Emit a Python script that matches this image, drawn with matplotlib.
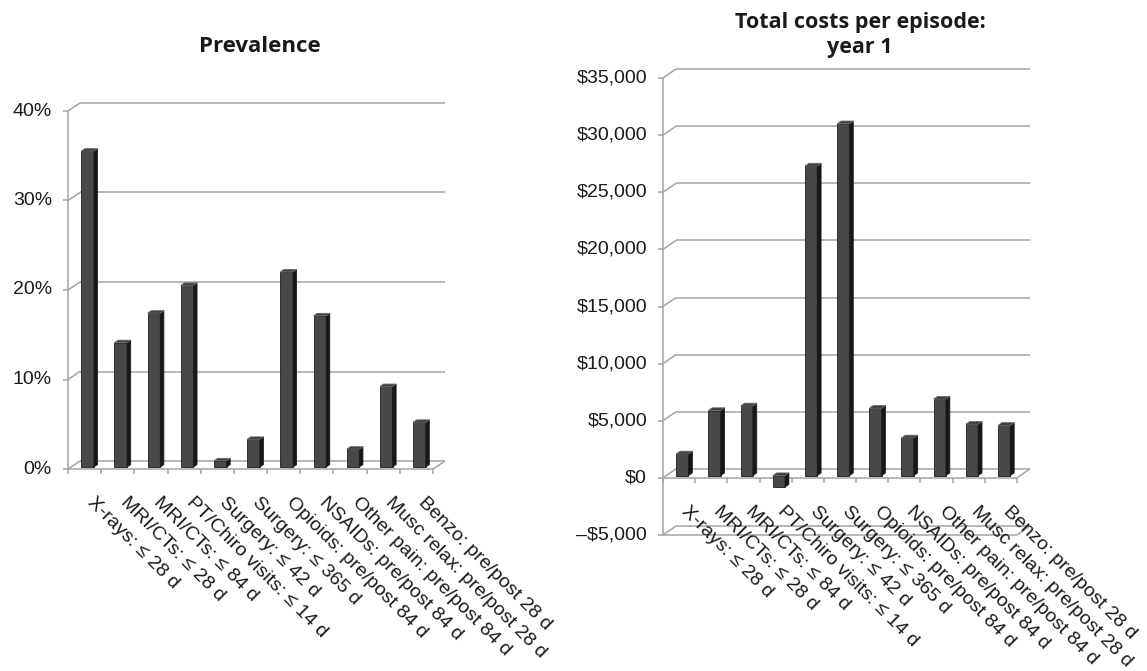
import matplotlib
matplotlib.use("Agg")
import matplotlib.pyplot as plt
from matplotlib.patches import Polygon

# ---- data -------------------------------------------------------------
categories = [
    "X-rays: \u2264 28 d",
    "MRI/CTs: \u2264 28 d",
    "MRI/CTs: \u2264 84 d",
    "PT/Chiro visits: \u2264 14 d",
    "Surgery: \u2264 42 d",
    "Surgery: \u2264 365 d",
    "Opioids: pre/post 84 d",
    "NSAIDs: pre/post 84 d",
    "Other pain: pre/post 84 d",
    "Musc relax: pre/post 28 d",
    "Benzo: pre/post 28 d",
]
prevalence_pct = [35.3, 13.9, 17.2, 20.3, 0.7, 3.1, 21.8, 16.9, 2.0, 9.0, 5.0]
cost_year1 = [1900, 5700, 6100, -1000, 27100, 30800, 5900, 3300, 6700, 4500, 4400]

prev_ticks = [0, 10, 20, 30, 40]
prev_tick_labels = ["0%", "10%", "20%", "30%", "40%"]
cost_ticks = [-5000, 0, 5000, 10000, 15000, 20000, 25000, 30000, 35000]
cost_tick_labels = ["\u2013$5,000", "$0", "$5,000", "$10,000", "$15,000",
                    "$20,000", "$25,000", "$30,000", "$35,000"]

prev_title = "Prevalence"
cost_title = "Total costs per episode:\nyear 1"

# ---- style --------------------------------------------------------------
W, H = 1147, 671
GRID = "#a3a3a3"
FRONT = "#48484b"
SIDE = "#161616"
TOP = "#3c3c3e"
EDGE = "#1e1e1e"
TICK_FONT = ["Liberation Sans", "DejaVu Sans"]
TITLE_FONT = ["Open Sans", "DejaVu Sans"]
FS = 14

fig = plt.figure(figsize=(W / 100, H / 100), dpi=100)
fig.patch.set_facecolor("white")


def px_axes(x0, x1, ytop, ybot):
    """Axes whose data box spans the given pixel extents of the figure."""
    return fig.add_axes([x0 / W, 1 - ybot / H, (x1 - x0) / W, (ybot - ytop) / H])


def pseudo3d_columns(ax, values, ticks, tick_labels, px_box, depth_px,
                     base, label_pad, bar_width=0.38):
    x0, x1, ytop, ybot = px_box
    n = len(values)
    ymin, ymax = ticks[0], ticks[-1]
    ax.set_xlim(0, n)
    ax.set_ylim(ymin, ymax)
    ax.axis("off")

    # pixel -> data scale factors
    sx = n / (x1 - x0)
    sy = (ymax - ymin) / (ybot - ytop)
    ddx, ddy = depth_px[0] * sx, depth_px[1] * sy

    line_kw = dict(color=GRID, lw=1.1, clip_on=False, solid_capstyle="butt", zorder=1)

    # back-wall gridlines, side-wall diagonals, ticks and value labels
    for t, lab in zip(ticks, tick_labels):
        ax.plot([ddx, n + ddx], [t + ddy, t + ddy], **line_kw)
        ax.plot([0, ddx], [t, t + ddy], **line_kw)
        ax.plot([-5 * sx, 0], [t, t], **line_kw)
        ax.text(-label_pad * sx, t, lab, ha="right", va="center",
                fontsize=FS, family=TICK_FONT, color="#1a1a1a")

    # front value axis
    ax.plot([0, 0], [ymin, ymax], **line_kw)

    # floor and category-axis outlines
    for level in sorted({ymin, base}):
        ax.plot([0, n], [level, level], **line_kw)
        ax.plot([n, n + ddx], [level, level + ddy], **line_kw)
    for i in range(n + 1):
        ax.plot([i, i], [base, base - 5 * sy], **line_kw)

    # columns: front face at a fraction of the wall depth, then side and top
    f0, f1 = 0.25, 0.55
    ox, oy = (f1 - f0) * ddx, (f1 - f0) * ddy
    lefts = [i + 0.5 - bar_width / 2 + f0 * ddx for i in range(n)]
    yb = base + f0 * ddy
    ax.bar(lefts, values, width=bar_width, bottom=yb, align="edge",
           color=FRONT, edgecolor=EDGE, linewidth=0.6, zorder=3, clip_on=False)
    for xl, v in zip(lefts, values):
        xr = xl + bar_width
        side = [(xr, yb), (xr, yb + v), (xr + ox, yb + v + oy), (xr + ox, yb + oy)]
        ax.add_patch(Polygon(side, closed=True, facecolor=SIDE, edgecolor=EDGE,
                             lw=0.6, zorder=4, clip_on=False))
        top = yb + max(v, 0)
        cap = [(xl, top), (xr, top), (xr + ox, top + oy), (xl + ox, top + oy)]
        ax.add_patch(Polygon(cap, closed=True, facecolor=TOP, edgecolor="#6a6a6a",
                             lw=0.6, zorder=5, clip_on=False))

    # rotated category labels
    for i, lab in enumerate(categories):
        ax.text(i + 0.5 + 11 * sx, base - 25 * sy, lab, rotation=-45,
                rotation_mode="anchor", ha="left", va="top",
                fontsize=FS, family=TICK_FONT, color="#1a1a1a")


ax1 = px_axes(68, 433, 111, 469)
pseudo3d_columns(ax1, prevalence_pct, prev_ticks, prev_tick_labels,
                 (68, 433, 111, 469), (12, 8), base=0, label_pad=16)

ax2 = px_axes(663, 1017, 78, 535)
pseudo3d_columns(ax2, cost_year1, cost_ticks, cost_tick_labels,
                 (663, 1017, 78, 535), (13, 9), base=0, label_pad=16)

fig.text(260 / W, 1 - 46 / H, prev_title, ha="center", va="center",
         fontsize=16, fontweight="bold", family=TITLE_FONT, color="#1a1a1a")
fig.text(860 / W, 1 - 35 / H, cost_title, ha="center", va="center",
         fontsize=15.5, fontweight="bold", family=TITLE_FONT, color="#1a1a1a",
         linespacing=1.3)

fig.savefig("out.png", dpi=100, facecolor="white")
